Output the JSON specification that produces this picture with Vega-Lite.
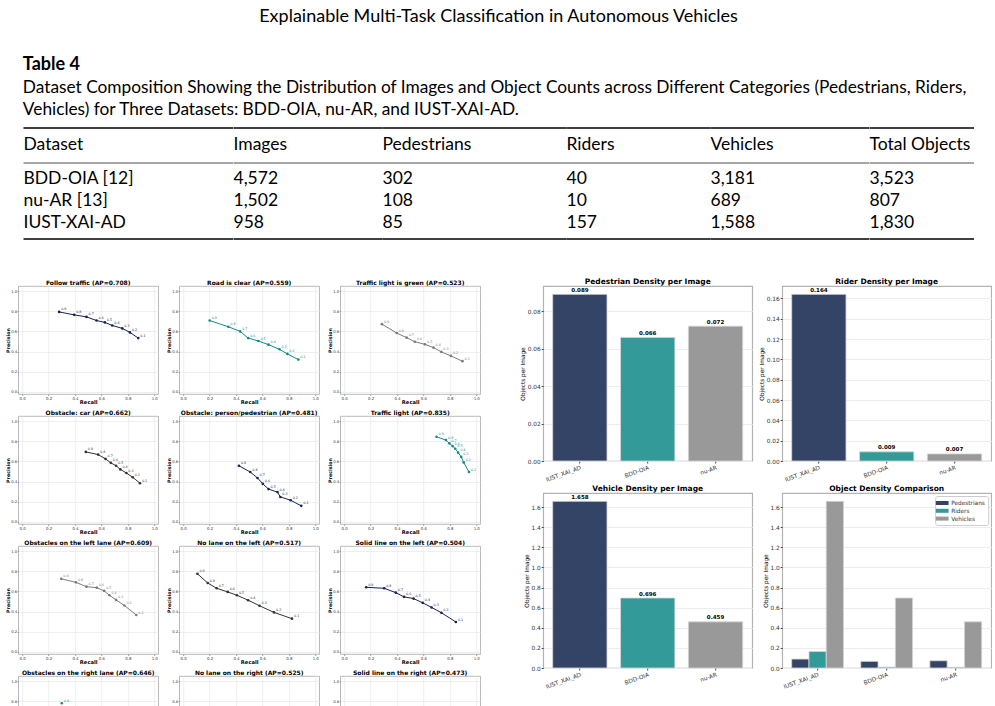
{
  "$schema": "https://vega.github.io/schema/vega-lite/v6.json",
  "background": "white",
  "padding": {"left": 5, "top": 7, "right": 0, "bottom": 0},
  "title": {"text": "Explainable Multi-Task Classification in Autonomous Vehicles", "font": "Lato", "fontSize": 18, "fontWeight": "normal", "color": "#000000", "anchor": "middle", "offset": 30},
  "datasets": {
    "columns": [{"col": "Dataset"}, {"col": "Images"}, {"col": "Pedestrians"}, {"col": "Riders"}, {"col": "Vehicles"}, {"col": "Total Objects"}],
    "tableRules": [{"line": "top", "weight": "heavy"}, {"line": "mid", "weight": "light"}, {"line": "bottom", "weight": "heavy"}],
    "tableRows": [
      {"Dataset": "BDD-OIA", "Cited": "BDD-OIA [12]", "Images": 4572, "Pedestrians": 302, "Riders": 40, "Vehicles": 3181, "Total Objects": 3523},
      {"Dataset": "nu-AR", "Cited": "nu-AR [13]", "Images": 1502, "Pedestrians": 108, "Riders": 10, "Vehicles": 689, "Total Objects": 807},
      {"Dataset": "IUST-XAI-AD", "Cited": "IUST-XAI-AD", "Images": 958, "Pedestrians": 85, "Riders": 157, "Vehicles": 1588, "Total Objects": 1830}
    ],
    "density": [
      {"dataset": "IUST_XAI_AD", "Pedestrians": 0.089, "Riders": 0.164, "Vehicles": 1.658},
      {"dataset": "BDD-OIA", "Pedestrians": 0.066, "Riders": 0.009, "Vehicles": 0.696},
      {"dataset": "nu-AR", "Pedestrians": 0.072, "Riders": 0.007, "Vehicles": 0.459}
    ],
    "pr": [
      {"task": "Follow traffic (AP=0.708)", "thr": 0.9, "recall": 0.28, "precision": 0.793},
      {"task": "Follow traffic (AP=0.708)", "thr": 0.8, "recall": 0.394, "precision": 0.764},
      {"task": "Follow traffic (AP=0.708)", "thr": 0.7, "recall": 0.487, "precision": 0.744},
      {"task": "Follow traffic (AP=0.708)", "thr": 0.6, "recall": 0.563, "precision": 0.708},
      {"task": "Follow traffic (AP=0.708)", "thr": 0.5, "recall": 0.626, "precision": 0.689},
      {"task": "Follow traffic (AP=0.708)", "thr": 0.4, "recall": 0.682, "precision": 0.659},
      {"task": "Follow traffic (AP=0.708)", "thr": 0.3, "recall": 0.758, "precision": 0.63},
      {"task": "Follow traffic (AP=0.708)", "thr": 0.2, "recall": 0.816, "precision": 0.59},
      {"task": "Follow traffic (AP=0.708)", "thr": 0.1, "recall": 0.879, "precision": 0.534},
      {"task": "Road is clear (AP=0.559)", "thr": 0.9, "recall": 0.201, "precision": 0.708},
      {"task": "Road is clear (AP=0.559)", "thr": 0.8, "recall": 0.342, "precision": 0.646},
      {"task": "Road is clear (AP=0.559)", "thr": 0.7, "recall": 0.432, "precision": 0.6},
      {"task": "Road is clear (AP=0.559)", "thr": 0.6, "recall": 0.492, "precision": 0.534},
      {"task": "Road is clear (AP=0.559)", "thr": 0.5, "recall": 0.57, "precision": 0.505},
      {"task": "Road is clear (AP=0.559)", "thr": 0.4, "recall": 0.646, "precision": 0.469},
      {"task": "Road is clear (AP=0.559)", "thr": 0.3, "recall": 0.729, "precision": 0.423},
      {"task": "Road is clear (AP=0.559)", "thr": 0.2, "recall": 0.789, "precision": 0.377},
      {"task": "Road is clear (AP=0.559)", "thr": 0.1, "recall": 0.872, "precision": 0.321},
      {"task": "Traffic light is green (AP=0.523)", "thr": 0.9, "recall": 0.286, "precision": 0.672},
      {"task": "Traffic light is green (AP=0.523)", "thr": 0.8, "recall": 0.398, "precision": 0.584},
      {"task": "Traffic light is green (AP=0.523)", "thr": 0.7, "recall": 0.473, "precision": 0.538},
      {"task": "Traffic light is green (AP=0.523)", "thr": 0.6, "recall": 0.535, "precision": 0.498},
      {"task": "Traffic light is green (AP=0.523)", "thr": 0.5, "recall": 0.612, "precision": 0.472},
      {"task": "Traffic light is green (AP=0.523)", "thr": 0.4, "recall": 0.677, "precision": 0.439},
      {"task": "Traffic light is green (AP=0.523)", "thr": 0.3, "recall": 0.736, "precision": 0.397},
      {"task": "Traffic light is green (AP=0.523)", "thr": 0.2, "recall": 0.808, "precision": 0.357},
      {"task": "Traffic light is green (AP=0.523)", "thr": 0.1, "recall": 0.896, "precision": 0.305},
      {"task": "Obstacle: car (AP=0.662)", "thr": 0.9, "recall": 0.482, "precision": 0.694},
      {"task": "Obstacle: car (AP=0.662)", "thr": 0.8, "recall": 0.575, "precision": 0.668},
      {"task": "Obstacle: car (AP=0.662)", "thr": 0.7, "recall": 0.631, "precision": 0.625},
      {"task": "Obstacle: car (AP=0.662)", "thr": 0.6, "recall": 0.671, "precision": 0.586},
      {"task": "Obstacle: car (AP=0.662)", "thr": 0.5, "recall": 0.711, "precision": 0.557},
      {"task": "Obstacle: car (AP=0.662)", "thr": 0.4, "recall": 0.744, "precision": 0.521},
      {"task": "Obstacle: car (AP=0.662)", "thr": 0.3, "recall": 0.789, "precision": 0.485},
      {"task": "Obstacle: car (AP=0.662)", "thr": 0.2, "recall": 0.837, "precision": 0.443},
      {"task": "Obstacle: car (AP=0.662)", "thr": 0.1, "recall": 0.892, "precision": 0.384},
      {"task": "Obstacle: person/pedestrian (AP=0.481)", "thr": 0.9, "recall": 0.422, "precision": 0.557},
      {"task": "Obstacle: person/pedestrian (AP=0.481)", "thr": 0.8, "recall": 0.508, "precision": 0.495},
      {"task": "Obstacle: person/pedestrian (AP=0.481)", "thr": 0.7, "recall": 0.563, "precision": 0.436},
      {"task": "Obstacle: person/pedestrian (AP=0.481)", "thr": 0.6, "recall": 0.603, "precision": 0.378},
      {"task": "Obstacle: person/pedestrian (AP=0.481)", "thr": 0.5, "recall": 0.646, "precision": 0.326},
      {"task": "Obstacle: person/pedestrian (AP=0.481)", "thr": 0.4, "recall": 0.714, "precision": 0.296},
      {"task": "Obstacle: person/pedestrian (AP=0.481)", "thr": 0.3, "recall": 0.736, "precision": 0.248},
      {"task": "Obstacle: person/pedestrian (AP=0.481)", "thr": 0.2, "recall": 0.814, "precision": 0.215},
      {"task": "Obstacle: person/pedestrian (AP=0.481)", "thr": 0.1, "recall": 0.894, "precision": 0.16},
      {"task": "Traffic light (AP=0.835)", "thr": 0.9, "recall": 0.699, "precision": 0.844},
      {"task": "Traffic light (AP=0.835)", "thr": 0.8, "recall": 0.771, "precision": 0.811},
      {"task": "Traffic light (AP=0.835)", "thr": 0.7, "recall": 0.796, "precision": 0.779},
      {"task": "Traffic light (AP=0.835)", "thr": 0.6, "recall": 0.821, "precision": 0.752},
      {"task": "Traffic light (AP=0.835)", "thr": 0.5, "recall": 0.841, "precision": 0.726},
      {"task": "Traffic light (AP=0.835)", "thr": 0.4, "recall": 0.863, "precision": 0.687},
      {"task": "Traffic light (AP=0.835)", "thr": 0.3, "recall": 0.886, "precision": 0.645},
      {"task": "Traffic light (AP=0.835)", "thr": 0.2, "recall": 0.905, "precision": 0.59},
      {"task": "Traffic light (AP=0.835)", "thr": 0.1, "recall": 0.945, "precision": 0.495},
      {"task": "Obstacles on the left lane (AP=0.609)", "thr": 0.9, "recall": 0.296, "precision": 0.725},
      {"task": "Obstacles on the left lane (AP=0.609)", "thr": 0.8, "recall": 0.407, "precision": 0.69},
      {"task": "Obstacles on the left lane (AP=0.609)", "thr": 0.7, "recall": 0.487, "precision": 0.647},
      {"task": "Obstacles on the left lane (AP=0.609)", "thr": 0.6, "recall": 0.565, "precision": 0.637},
      {"task": "Obstacles on the left lane (AP=0.609)", "thr": 0.5, "recall": 0.621, "precision": 0.605},
      {"task": "Obstacles on the left lane (AP=0.609)", "thr": 0.4, "recall": 0.661, "precision": 0.562},
      {"task": "Obstacles on the left lane (AP=0.609)", "thr": 0.3, "recall": 0.711, "precision": 0.516},
      {"task": "Obstacles on the left lane (AP=0.609)", "thr": 0.2, "recall": 0.774, "precision": 0.461},
      {"task": "Obstacles on the left lane (AP=0.609)", "thr": 0.1, "recall": 0.864, "precision": 0.366},
      {"task": "No lane on the left (AP=0.517)", "thr": 0.9, "recall": 0.108, "precision": 0.775},
      {"task": "No lane on the left (AP=0.517)", "thr": 0.8, "recall": 0.186, "precision": 0.683},
      {"task": "No lane on the left (AP=0.517)", "thr": 0.7, "recall": 0.254, "precision": 0.631},
      {"task": "No lane on the left (AP=0.517)", "thr": 0.6, "recall": 0.337, "precision": 0.595},
      {"task": "No lane on the left (AP=0.517)", "thr": 0.5, "recall": 0.407, "precision": 0.562},
      {"task": "No lane on the left (AP=0.517)", "thr": 0.4, "recall": 0.492, "precision": 0.513},
      {"task": "No lane on the left (AP=0.517)", "thr": 0.3, "recall": 0.578, "precision": 0.458},
      {"task": "No lane on the left (AP=0.517)", "thr": 0.2, "recall": 0.688, "precision": 0.392},
      {"task": "No lane on the left (AP=0.517)", "thr": 0.1, "recall": 0.824, "precision": 0.33},
      {"task": "Solid line on the left (AP=0.504)", "thr": 0.9, "recall": 0.167, "precision": 0.641},
      {"task": "Solid line on the left (AP=0.504)", "thr": 0.8, "recall": 0.303, "precision": 0.631},
      {"task": "Solid line on the left (AP=0.504)", "thr": 0.7, "recall": 0.391, "precision": 0.588},
      {"task": "Solid line on the left (AP=0.504)", "thr": 0.6, "recall": 0.453, "precision": 0.546},
      {"task": "Solid line on the left (AP=0.504)", "thr": 0.5, "recall": 0.525, "precision": 0.529},
      {"task": "Solid line on the left (AP=0.504)", "thr": 0.4, "recall": 0.595, "precision": 0.487},
      {"task": "Solid line on the left (AP=0.504)", "thr": 0.3, "recall": 0.662, "precision": 0.441},
      {"task": "Solid line on the left (AP=0.504)", "thr": 0.2, "recall": 0.736, "precision": 0.389},
      {"task": "Solid line on the left (AP=0.504)", "thr": 0.1, "recall": 0.846, "precision": 0.297},
      {"task": "Obstacles on the right lane (AP=0.646)", "thr": 0.9, "recall": 0.3, "precision": 0.78},
      {"task": "No lane on the right (AP=0.525)", "thr": null, "recall": null, "precision": null},
      {"task": "Solid line on the right (AP=0.473)", "thr": null, "recall": null, "precision": null}
    ]
  },
  "vconcat": [
    {
      "title": {
        "text": "Table 4",
        "subtitle": ["Dataset Composition Showing the Distribution of Images and Object Counts across Different Categories (Pedestrians, Riders,", "Vehicles) for Three Datasets: BDD-OIA, nu-AR, and IUST-XAI-AD."],
        "anchor": "start", "font": "Lato", "fontSize": 18, "fontWeight": "bold", "color": "#000000",
        "subtitleFont": "Lato", "subtitleFontSize": 17.3, "subtitleColor": "#000000", "subtitleLineHeight": 22, "subtitlePadding": 5, "offset": 9.5
      },
      "spacing": 0,
      "vconcat": [
        {
          "bounds": "flush",
          "spacing": 0,
          "hconcat": [
            {"width": 209.5, "height": 33.3, "layer": [
              {"data": {"name": "tableRules"}, "transform": [{"filter": "datum.line !== 'bottom'"}], "mark": {"type": "rule", "color": "#000000"},
               "encoding": {"y": {"field": "line", "type": "nominal", "scale": {"type": "point", "padding": 0, "domain": ["top", "header", "mid"]}, "axis": null},
                            "strokeWidth": {"field": "weight", "type": "ordinal", "scale": {"domain": ["heavy", "light"], "range": [1.3, 0.7]}, "legend": null},
                            "opacity": {"condition": {"test": "datum.line === 'mid'", "value": 0}, "value": 1}}},
              {"data": {"name": "columns"}, "transform": [{"filter": "datum.col === 'Dataset'"}], "mark": {"type": "text", "font": "Lato", "fontSize": 17.5, "align": "left", "baseline": "middle", "color": "#000000"},
               "encoding": {"x": {"field": "col", "type": "nominal", "scale": {"type": "point", "padding": 0, "align": 0}, "axis": null}, "y": {"datum": "header", "type": "nominal"}, "text": {"field": "col"}}}
            ]},
            {"width": 149, "height": 33.3, "layer": [
              {"data": {"name": "tableRules"}, "transform": [{"filter": "datum.line !== 'bottom'"}], "mark": {"type": "rule", "color": "#000000"},
               "encoding": {"y": {"field": "line", "type": "nominal", "scale": {"type": "point", "padding": 0, "domain": ["top", "header", "mid"]}, "axis": null},
                            "strokeWidth": {"field": "weight", "type": "ordinal", "scale": {"domain": ["heavy", "light"], "range": [1.3, 0.7]}, "legend": null},
                            "opacity": {"condition": {"test": "datum.line === 'mid'", "value": 0}, "value": 1}}},
              {"data": {"name": "columns"}, "transform": [{"filter": "datum.col === 'Images'"}], "mark": {"type": "text", "font": "Lato", "fontSize": 17.5, "align": "left", "baseline": "middle", "color": "#000000"},
               "encoding": {"x": {"field": "col", "type": "nominal", "scale": {"type": "point", "padding": 0, "align": 0}, "axis": null}, "y": {"datum": "header", "type": "nominal"}, "text": {"field": "col"}}}
            ]},
            {"width": 184, "height": 33.3, "layer": [
              {"data": {"name": "tableRules"}, "transform": [{"filter": "datum.line !== 'bottom'"}], "mark": {"type": "rule", "color": "#000000"},
               "encoding": {"y": {"field": "line", "type": "nominal", "scale": {"type": "point", "padding": 0, "domain": ["top", "header", "mid"]}, "axis": null},
                            "strokeWidth": {"field": "weight", "type": "ordinal", "scale": {"domain": ["heavy", "light"], "range": [1.3, 0.7]}, "legend": null},
                            "opacity": {"condition": {"test": "datum.line === 'mid'", "value": 0}, "value": 1}}},
              {"data": {"name": "columns"}, "transform": [{"filter": "datum.col === 'Pedestrians'"}], "mark": {"type": "text", "font": "Lato", "fontSize": 17.5, "align": "left", "baseline": "middle", "color": "#000000"},
               "encoding": {"x": {"field": "col", "type": "nominal", "scale": {"type": "point", "padding": 0, "align": 0}, "axis": null}, "y": {"datum": "header", "type": "nominal"}, "text": {"field": "col"}}}
            ]},
            {"width": 144, "height": 33.3, "layer": [
              {"data": {"name": "tableRules"}, "transform": [{"filter": "datum.line !== 'bottom'"}], "mark": {"type": "rule", "color": "#000000"},
               "encoding": {"y": {"field": "line", "type": "nominal", "scale": {"type": "point", "padding": 0, "domain": ["top", "header", "mid"]}, "axis": null},
                            "strokeWidth": {"field": "weight", "type": "ordinal", "scale": {"domain": ["heavy", "light"], "range": [1.3, 0.7]}, "legend": null},
                            "opacity": {"condition": {"test": "datum.line === 'mid'", "value": 0}, "value": 1}}},
              {"data": {"name": "columns"}, "transform": [{"filter": "datum.col === 'Riders'"}], "mark": {"type": "text", "font": "Lato", "fontSize": 17.5, "align": "left", "baseline": "middle", "color": "#000000"},
               "encoding": {"x": {"field": "col", "type": "nominal", "scale": {"type": "point", "padding": 0, "align": 0}, "axis": null}, "y": {"datum": "header", "type": "nominal"}, "text": {"field": "col"}}}
            ]},
            {"width": 158.5, "height": 33.3, "layer": [
              {"data": {"name": "tableRules"}, "transform": [{"filter": "datum.line !== 'bottom'"}], "mark": {"type": "rule", "color": "#000000"},
               "encoding": {"y": {"field": "line", "type": "nominal", "scale": {"type": "point", "padding": 0, "domain": ["top", "header", "mid"]}, "axis": null},
                            "strokeWidth": {"field": "weight", "type": "ordinal", "scale": {"domain": ["heavy", "light"], "range": [1.3, 0.7]}, "legend": null},
                            "opacity": {"condition": {"test": "datum.line === 'mid'", "value": 0}, "value": 1}}},
              {"data": {"name": "columns"}, "transform": [{"filter": "datum.col === 'Vehicles'"}], "mark": {"type": "text", "font": "Lato", "fontSize": 17.5, "align": "left", "baseline": "middle", "color": "#000000"},
               "encoding": {"x": {"field": "col", "type": "nominal", "scale": {"type": "point", "padding": 0, "align": 0}, "axis": null}, "y": {"datum": "header", "type": "nominal"}, "text": {"field": "col"}}}
            ]},
            {"width": 104.5, "height": 33.3, "layer": [
              {"data": {"name": "tableRules"}, "transform": [{"filter": "datum.line !== 'bottom'"}], "mark": {"type": "rule", "color": "#000000"},
               "encoding": {"y": {"field": "line", "type": "nominal", "scale": {"type": "point", "padding": 0, "domain": ["top", "header", "mid"]}, "axis": null},
                            "strokeWidth": {"field": "weight", "type": "ordinal", "scale": {"domain": ["heavy", "light"], "range": [1.3, 0.7]}, "legend": null},
                            "opacity": {"condition": {"test": "datum.line === 'mid'", "value": 0}, "value": 1}}},
              {"data": {"name": "columns"}, "transform": [{"filter": "datum.col === 'Total Objects'"}], "mark": {"type": "text", "font": "Lato", "fontSize": 17.5, "align": "left", "baseline": "middle", "color": "#000000"},
               "encoding": {"x": {"field": "col", "type": "nominal", "scale": {"type": "point", "padding": 0, "align": 0}, "axis": null}, "y": {"datum": "header", "type": "nominal"}, "text": {"field": "col"}}}
            ]},
            {"width": 12, "height": 33.3,
             "data": {"name": "tableRules"}, "transform": [{"filter": "datum.line === 'top'"}],
             "mark": {"type": "rule", "opacity": 0},
             "encoding": {"y": {"field": "line", "type": "nominal", "scale": {"type": "point", "padding": 0, "domain": ["top", "header", "mid"]}, "axis": null}}}
          ]
        },
        {
          "bounds": "flush",
          "spacing": 0,
          "hconcat": [
            {"width": 209.5, "height": 76, "resolve": {"scale": {"y": "independent"}}, "layer": [
              {"data": {"name": "tableRules"}, "transform": [{"filter": "datum.line !== 'top'"}], "mark": {"type": "rule", "color": "#000000"},
               "encoding": {"y": {"field": "line", "type": "nominal", "scale": {"type": "point", "padding": 0, "domain": ["mid", "bottom"]}, "axis": null},
                            "strokeWidth": {"field": "weight", "type": "ordinal", "scale": {"domain": ["heavy", "light"], "range": [1.3, 0.7]}, "legend": null}}},
              {"data": {"name": "tableRows"}, "mark": {"type": "text", "font": "Lato", "fontSize": 17.5, "align": "left", "baseline": "middle", "color": "#000000"},
               "encoding": {"x": {"datum": "Dataset", "type": "nominal", "scale": {"type": "point", "padding": 0, "align": 0}, "axis": null},
                            "y": {"field": "Dataset", "type": "nominal", "scale": {"type": "point", "padding": 0.75, "domain": ["BDD-OIA", "nu-AR", "IUST-XAI-AD"]}, "axis": null},
                            "text": {"field": "Cited"}}}
            ]},
            {"width": 149, "height": 76, "resolve": {"scale": {"y": "independent"}}, "layer": [
              {"data": {"name": "tableRules"}, "transform": [{"filter": "datum.line !== 'top'"}], "mark": {"type": "rule", "color": "#000000"},
               "encoding": {"y": {"field": "line", "type": "nominal", "scale": {"type": "point", "padding": 0, "domain": ["mid", "bottom"]}, "axis": null},
                            "strokeWidth": {"field": "weight", "type": "ordinal", "scale": {"domain": ["heavy", "light"], "range": [1.3, 0.7]}, "legend": null}}},
              {"data": {"name": "tableRows"}, "mark": {"type": "text", "font": "Lato", "fontSize": 17.5, "align": "left", "baseline": "middle", "color": "#000000"},
               "encoding": {"x": {"datum": "Images", "type": "nominal", "scale": {"type": "point", "padding": 0, "align": 0}, "axis": null},
                            "y": {"field": "Dataset", "type": "nominal", "scale": {"type": "point", "padding": 0.75, "domain": ["BDD-OIA", "nu-AR", "IUST-XAI-AD"]}, "axis": null},
                            "text": {"field": "Images", "type": "quantitative", "format": ","}}}
            ]},
            {"width": 184, "height": 76, "resolve": {"scale": {"y": "independent"}}, "layer": [
              {"data": {"name": "tableRules"}, "transform": [{"filter": "datum.line !== 'top'"}], "mark": {"type": "rule", "color": "#000000"},
               "encoding": {"y": {"field": "line", "type": "nominal", "scale": {"type": "point", "padding": 0, "domain": ["mid", "bottom"]}, "axis": null},
                            "strokeWidth": {"field": "weight", "type": "ordinal", "scale": {"domain": ["heavy", "light"], "range": [1.3, 0.7]}, "legend": null}}},
              {"data": {"name": "tableRows"}, "mark": {"type": "text", "font": "Lato", "fontSize": 17.5, "align": "left", "baseline": "middle", "color": "#000000"},
               "encoding": {"x": {"datum": "Pedestrians", "type": "nominal", "scale": {"type": "point", "padding": 0, "align": 0}, "axis": null},
                            "y": {"field": "Dataset", "type": "nominal", "scale": {"type": "point", "padding": 0.75, "domain": ["BDD-OIA", "nu-AR", "IUST-XAI-AD"]}, "axis": null},
                            "text": {"field": "Pedestrians", "type": "quantitative", "format": ","}}}
            ]},
            {"width": 144, "height": 76, "resolve": {"scale": {"y": "independent"}}, "layer": [
              {"data": {"name": "tableRules"}, "transform": [{"filter": "datum.line !== 'top'"}], "mark": {"type": "rule", "color": "#000000"},
               "encoding": {"y": {"field": "line", "type": "nominal", "scale": {"type": "point", "padding": 0, "domain": ["mid", "bottom"]}, "axis": null},
                            "strokeWidth": {"field": "weight", "type": "ordinal", "scale": {"domain": ["heavy", "light"], "range": [1.3, 0.7]}, "legend": null}}},
              {"data": {"name": "tableRows"}, "mark": {"type": "text", "font": "Lato", "fontSize": 17.5, "align": "left", "baseline": "middle", "color": "#000000"},
               "encoding": {"x": {"datum": "Riders", "type": "nominal", "scale": {"type": "point", "padding": 0, "align": 0}, "axis": null},
                            "y": {"field": "Dataset", "type": "nominal", "scale": {"type": "point", "padding": 0.75, "domain": ["BDD-OIA", "nu-AR", "IUST-XAI-AD"]}, "axis": null},
                            "text": {"field": "Riders", "type": "quantitative", "format": ","}}}
            ]},
            {"width": 158.5, "height": 76, "resolve": {"scale": {"y": "independent"}}, "layer": [
              {"data": {"name": "tableRules"}, "transform": [{"filter": "datum.line !== 'top'"}], "mark": {"type": "rule", "color": "#000000"},
               "encoding": {"y": {"field": "line", "type": "nominal", "scale": {"type": "point", "padding": 0, "domain": ["mid", "bottom"]}, "axis": null},
                            "strokeWidth": {"field": "weight", "type": "ordinal", "scale": {"domain": ["heavy", "light"], "range": [1.3, 0.7]}, "legend": null}}},
              {"data": {"name": "tableRows"}, "mark": {"type": "text", "font": "Lato", "fontSize": 17.5, "align": "left", "baseline": "middle", "color": "#000000"},
               "encoding": {"x": {"datum": "Vehicles", "type": "nominal", "scale": {"type": "point", "padding": 0, "align": 0}, "axis": null},
                            "y": {"field": "Dataset", "type": "nominal", "scale": {"type": "point", "padding": 0.75, "domain": ["BDD-OIA", "nu-AR", "IUST-XAI-AD"]}, "axis": null},
                            "text": {"field": "Vehicles", "type": "quantitative", "format": ","}}}
            ]},
            {"width": 104.5, "height": 76, "resolve": {"scale": {"y": "independent"}}, "layer": [
              {"data": {"name": "tableRules"}, "transform": [{"filter": "datum.line !== 'top'"}], "mark": {"type": "rule", "color": "#000000"},
               "encoding": {"y": {"field": "line", "type": "nominal", "scale": {"type": "point", "padding": 0, "domain": ["mid", "bottom"]}, "axis": null},
                            "strokeWidth": {"field": "weight", "type": "ordinal", "scale": {"domain": ["heavy", "light"], "range": [1.3, 0.7]}, "legend": null}}},
              {"data": {"name": "tableRows"}, "mark": {"type": "text", "font": "Lato", "fontSize": 17.5, "align": "left", "baseline": "middle", "color": "#000000"},
               "encoding": {"x": {"datum": "Total Objects", "type": "nominal", "scale": {"type": "point", "padding": 0, "align": 0}, "axis": null},
                            "y": {"field": "Dataset", "type": "nominal", "scale": {"type": "point", "padding": 0.75, "domain": ["BDD-OIA", "nu-AR", "IUST-XAI-AD"]}, "axis": null},
                            "text": {"field": "Total Objects", "type": "quantitative", "format": ","}}}
            ]}
          ]
        }
      ]
    },
    {
      "spacing": 37,
      "resolve": {"scale": {"color": "independent"}, "legend": {"color": "independent"}},
      "hconcat": [
        {
          "data": {"name": "pr"},
          "columns": 3,
          "spacing": {"row": 3, "column": 7},
          "facet": {
            "field": "task", "type": "nominal",
            "sort": ["Follow traffic (AP=0.708)", "Road is clear (AP=0.559)", "Traffic light is green (AP=0.523)", "Obstacle: car (AP=0.662)", "Obstacle: person/pedestrian (AP=0.481)", "Traffic light (AP=0.835)", "Obstacles on the left lane (AP=0.609)", "No lane on the left (AP=0.517)", "Solid line on the left (AP=0.504)", "Obstacles on the right lane (AP=0.646)", "No lane on the right (AP=0.525)", "Solid line on the right (AP=0.473)"],
            "header": {"title": null, "labelFont": "DejaVu Sans", "labelFontSize": 6, "labelFontWeight": "bold", "labelColor": "#000000", "labelPadding": 0.5}
          },
          "resolve": {"axis": {"x": "independent", "y": "independent"}},
          "spec": {
            "width": 140, "height": 108,
            "view": {"stroke": "#a8a8a8", "strokeWidth": 0.8},
            "encoding": {
              "x": {"field": "recall", "type": "quantitative", "scale": {"domain": [-0.03, 1.03], "nice": false, "zero": false},
                    "axis": {"values": [0, 0.2, 0.4, 0.6, 0.8, 1], "format": ".1f", "title": "Recall", "titleFontSize": 5.2, "titleFontWeight": "bold", "titlePadding": 0, "labelFontSize": 3.9, "labelPadding": 0.5, "labelOverlap": false, "labelFlush": false, "tickSize": 1.5, "tickWidth": 0.5, "grid": true, "gridColor": "#e4e4e4", "gridWidth": 0.6, "domain": false}},
              "y": {"field": "precision", "type": "quantitative", "scale": {"domain": [-0.02, 1.05], "nice": false, "zero": false},
                    "axis": {"values": [0, 0.2, 0.4, 0.6, 0.8, 1], "format": ".1f", "title": "Precision", "titleFontSize": 4.8, "titleFontWeight": "bold", "titlePadding": 0, "labelFontSize": 3.8, "labelPadding": 0.5, "labelOverlap": false, "labelFlush": false, "tickSize": 1, "tickWidth": 0.5, "grid": true, "gridColor": "#e4e4e4", "gridWidth": 0.6, "domain": false}},
              "color": {"field": "task", "type": "nominal", "legend": null,
                        "scale": {"domain": ["Follow traffic (AP=0.708)", "Road is clear (AP=0.559)", "Traffic light is green (AP=0.523)", "Obstacle: car (AP=0.662)", "Obstacle: person/pedestrian (AP=0.481)", "Traffic light (AP=0.835)", "Obstacles on the left lane (AP=0.609)", "No lane on the left (AP=0.517)", "Solid line on the left (AP=0.504)", "Obstacles on the right lane (AP=0.646)", "No lane on the right (AP=0.525)", "Solid line on the right (AP=0.473)"],
                                  "range": ["#16244f", "#138b8b", "#7c7c7c", "#343434", "#16244f", "#138b8b", "#7c7c7c", "#343434", "#16244f", "#138b8b", "#7c7c7c", "#343434"]}}
            },
            "layer": [
              {"mark": {"type": "line", "strokeWidth": 1}, "encoding": {"order": {"field": "thr", "sort": "descending"}}},
              {"mark": {"type": "point", "filled": true, "size": 7, "opacity": 1}},
              {"mark": {"type": "text", "font": "DejaVu Sans", "fontSize": 3.3, "align": "left", "baseline": "bottom", "dx": 2, "dy": -0.5},
               "encoding": {"text": {"field": "thr", "type": "quantitative", "format": ".1f"}}}
            ]
          }
        },
        {
          "columns": 2,
          "spacing": {"row": 1, "column": 4},
          "resolve": {"scale": {"x": "independent", "y": "independent", "color": "independent"}, "legend": {"color": "independent"}},
          "concat": [
            {
              "data": {"name": "density"},
              "width": 209, "height": 175,
              "title": "Pedestrian Density per Image",
              "view": {"stroke": "#b3b3b3", "strokeWidth": 1.2},
              "encoding": {
                "x": {"field": "dataset", "type": "nominal", "sort": ["IUST_XAI_AD", "BDD-OIA", "nu-AR"], "scale": {"paddingInner": 0.2, "paddingOuter": 0.14},
                      "axis": {"title": null, "labelAngle": -20, "labelAlign": "right", "labelBaseline": "top", "labelFontSize": 5.8, "labelPadding": 1, "tickSize": 2, "domain": false}},
                "y": {"field": "Pedestrians", "type": "quantitative", "scale": {"domain": [0, 0.09345], "nice": false},
                      "axis": {"values": [0, 0.02, 0.04, 0.06, 0.08], "format": ".2f", "title": "Objects per Image", "titleFontSize": 5.8, "titleFontWeight": "normal", "titlePadding": 1.5, "labelFontSize": 5.8, "labelPadding": 1, "tickSize": 2, "grid": true, "gridColor": "#ececec", "domain": false}}
              },
              "layer": [
                {"mark": {"type": "bar", "stroke": "#d6d6d6", "strokeWidth": 0.8},
                 "encoding": {"color": {"field": "dataset", "type": "nominal", "legend": null, "scale": {"domain": ["IUST_XAI_AD", "BDD-OIA", "nu-AR"], "range": ["#344466", "#339999", "#999999"]}}}},
                {"mark": {"type": "text", "fontSize": 5.5, "fontWeight": "bold", "baseline": "bottom", "dy": -1.5, "color": "#000000"},
                 "encoding": {"text": {"field": "Pedestrians", "type": "quantitative", "format": ".3f"}}}
              ]
            },
            {
              "data": {"name": "density"},
              "width": 209, "height": 175,
              "title": "Rider Density per Image",
              "view": {"stroke": "#b3b3b3", "strokeWidth": 1.2},
              "encoding": {
                "x": {"field": "dataset", "type": "nominal", "sort": ["IUST_XAI_AD", "BDD-OIA", "nu-AR"], "scale": {"paddingInner": 0.2, "paddingOuter": 0.14},
                      "axis": {"title": null, "labelAngle": -20, "labelAlign": "right", "labelBaseline": "top", "labelFontSize": 5.8, "labelPadding": 1, "tickSize": 2, "domain": false}},
                "y": {"field": "Riders", "type": "quantitative", "scale": {"domain": [0, 0.1722], "nice": false},
                      "axis": {"values": [0, 0.02, 0.04, 0.06, 0.08, 0.1, 0.12, 0.14, 0.16], "format": ".2f", "title": "Objects per Image", "titleFontSize": 5.8, "titleFontWeight": "normal", "titlePadding": 1.5, "labelFontSize": 5.8, "labelPadding": 1, "tickSize": 2, "grid": true, "gridColor": "#ececec", "domain": false}}
              },
              "layer": [
                {"mark": {"type": "bar", "stroke": "#d6d6d6", "strokeWidth": 0.8},
                 "encoding": {"color": {"field": "dataset", "type": "nominal", "legend": null, "scale": {"domain": ["IUST_XAI_AD", "BDD-OIA", "nu-AR"], "range": ["#344466", "#339999", "#999999"]}}}},
                {"mark": {"type": "text", "fontSize": 5.5, "fontWeight": "bold", "baseline": "bottom", "dy": -1.5, "color": "#000000"},
                 "encoding": {"text": {"field": "Riders", "type": "quantitative", "format": ".3f"}}}
              ]
            },
            {
              "data": {"name": "density"},
              "width": 209, "height": 175,
              "title": "Vehicle Density per Image",
              "view": {"stroke": "#b3b3b3", "strokeWidth": 1.2},
              "encoding": {
                "x": {"field": "dataset", "type": "nominal", "sort": ["IUST_XAI_AD", "BDD-OIA", "nu-AR"], "scale": {"paddingInner": 0.2, "paddingOuter": 0.14},
                      "axis": {"title": null, "labelAngle": -20, "labelAlign": "right", "labelBaseline": "top", "labelFontSize": 5.8, "labelPadding": 1, "tickSize": 2, "domain": false}},
                "y": {"field": "Vehicles", "type": "quantitative", "scale": {"domain": [0, 1.7409], "nice": false},
                      "axis": {"values": [0, 0.2, 0.4, 0.6, 0.8, 1, 1.2, 1.4, 1.6], "format": ".1f", "title": "Objects per Image", "titleFontSize": 5.8, "titleFontWeight": "normal", "titlePadding": 1.5, "labelFontSize": 5.8, "labelPadding": 1, "tickSize": 2, "grid": true, "gridColor": "#ececec", "domain": false}}
              },
              "layer": [
                {"mark": {"type": "bar", "stroke": "#d6d6d6", "strokeWidth": 0.8},
                 "encoding": {"color": {"field": "dataset", "type": "nominal", "legend": null, "scale": {"domain": ["IUST_XAI_AD", "BDD-OIA", "nu-AR"], "range": ["#344466", "#339999", "#999999"]}}}},
                {"mark": {"type": "text", "fontSize": 5.5, "fontWeight": "bold", "baseline": "bottom", "dy": -1.5, "color": "#000000"},
                 "encoding": {"text": {"field": "Vehicles", "type": "quantitative", "format": ".3f"}}}
              ]
            },
            {
              "data": {"name": "density"},
              "width": 209, "height": 175,
              "title": "Object Density Comparison",
              "view": {"stroke": "#b3b3b3", "strokeWidth": 1.2},
              "transform": [{"fold": ["Pedestrians", "Riders", "Vehicles"], "as": ["category", "density"]}],
              "mark": {"type": "bar", "stroke": "#d6d6d6", "strokeWidth": 0.8},
              "encoding": {
                "x": {"field": "dataset", "type": "nominal", "sort": ["IUST_XAI_AD", "BDD-OIA", "nu-AR"], "scale": {"paddingInner": 0.25, "paddingOuter": 0.1375},
                      "axis": {"title": null, "labelAngle": -20, "labelAlign": "right", "labelBaseline": "top", "labelFontSize": 5.8, "labelPadding": 1, "tickSize": 2, "domain": false}},
                "xOffset": {"field": "category", "type": "nominal", "sort": ["Pedestrians", "Riders", "Vehicles"], "scale": {"paddingInner": 0, "paddingOuter": 0}},
                "y": {"field": "density", "type": "quantitative", "scale": {"domain": [0, 1.7409], "nice": false},
                      "axis": {"values": [0, 0.2, 0.4, 0.6, 0.8, 1, 1.2, 1.4, 1.6], "format": ".1f", "title": "Objects per Image", "titleFontSize": 5.8, "titleFontWeight": "normal", "titlePadding": 1.5, "labelFontSize": 5.8, "labelPadding": 1, "tickSize": 2, "grid": true, "gridColor": "#ececec", "domain": false}},
                "color": {"field": "category", "type": "nominal", "sort": ["Pedestrians", "Riders", "Vehicles"],
                          "scale": {"domain": ["Pedestrians", "Riders", "Vehicles"], "range": ["#344466", "#339999", "#999999"]},
                          "legend": {"orient": "top-right", "offset": 3, "title": null, "symbolType": "M-1.6,-0.5H1.6V0.5H-1.6Z", "symbolSize": 64, "symbolStrokeWidth": 0, "labelFontSize": 5.8, "labelColor": "#333333", "labelOffset": 5, "padding": 3, "rowPadding": 0.8, "strokeColor": "#cccccc", "fillColor": "#ffffff", "cornerRadius": 2}}
              }
            }
          ]
        }
      ]
    }
  ],
  "spacing": 37,
  "center": true,
  "config": {
    "font": "DejaVu Sans",
    "view": {"stroke": null},
    "title": {"font": "DejaVu Sans", "fontSize": 7.5, "fontWeight": "bold", "color": "#000000", "offset": 0.5, "anchor": "middle"},
    "axis": {"labelFont": "DejaVu Sans", "titleFont": "DejaVu Sans", "labelColor": "#333333", "titleColor": "#000000", "tickColor": "#444444"},
    "legend": {"labelFont": "DejaVu Sans"},
    "text": {"font": "DejaVu Sans"}
  }
}
